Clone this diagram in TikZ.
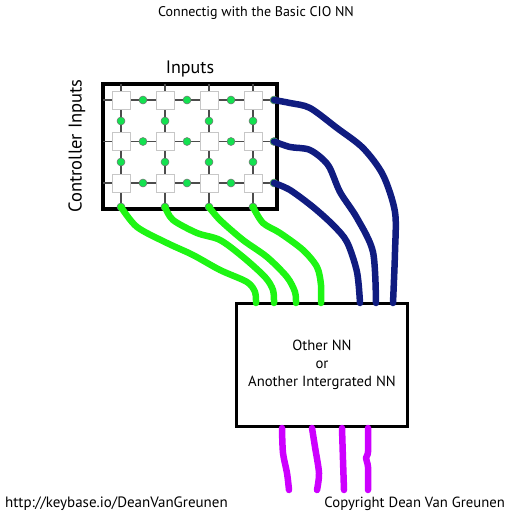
\documentclass[tikz,border=0pt]{standalone}
\usepackage{fontspec}
\setmainfont{PT Sans}
\usetikzlibrary{calc}

\definecolor{dotgreen}{RGB}{20,225,80}
\definecolor{limegreen}{RGB}{30,245,20}
\definecolor{navywire}{RGB}{16,28,128}
\definecolor{purplewire}{RGB}{205,0,255}

\begin{document}
\begin{tikzpicture}[x=1pt,y=-1pt,
	cell/.style={draw=black!22,fill=white,minimum size=18pt,inner sep=0pt,line width=0.8pt},
	dot/.style={circle,draw=black!55,fill=dotgreen,minimum size=8pt,inner sep=0pt,line width=0.5pt},
	gridline/.style={draw=black!70,line width=1.1pt},
	frame/.style={draw,line width=3.5pt,inner sep=0pt},
	wire/.style={line width=6.5pt,line cap=round,line join=round}]
	\useasboundingbox (0,0) rectangle (512,512);

	% title
	\node[font=\fontsize{14}{16}\selectfont] (title) at (256,13) {Connectig with the Basic CIO NN};

	% input grid
	\node[frame,minimum width=174pt,minimum height=125pt] (grid) at (190,146.5) {};
	\node[anchor=base,font=\fontsize{18}{20}\selectfont] (inputs) at (190,73) {Inputs};
	\node[rotate=90,font=\fontsize{18.5}{20}\selectfont] (ctrl) at (77,146) {Controller Inputs};
	\foreach \y in {100,141.5,183}
		\draw[gridline] (103,\y) -- (275,\y);
	\foreach \x in {121,165,209,253}
		\draw[gridline] (\x,84) -- (\x,208);
	\foreach \x [count=\c] in {121,165,209,253}
		\foreach \y [count=\r] in {100,141.5,183}
			\node[cell] (c\c\r) at (\x,\y) {};
	\foreach \y [count=\r] in {100,141.5,183}
		\foreach \x [count=\c] in {143,187,231,274}
			\node[dot] (h\c\r) at (\x,\y) {};
	\foreach \x [count=\c] in {121,165,209,253}
		\foreach \y [count=\r] in {121,162,207}
			\node[dot] (v\c\r) at (\x,\y) {};

	% other network
	\node[frame,minimum width=171pt,minimum height=123pt,align=center,
		font=\fontsize{14.7}{18}\selectfont] (other) at (322,365) {Other NN\\or\\Another Intergrated NN};
	\coordinate (g1) at (256,303);
	\coordinate (g2) at (274,303);
	\coordinate (g3) at (296,303);
	\coordinate (g4) at (321,303);
	\coordinate (b1) at (360,303);
	\coordinate (b2) at (376,303);
	\coordinate (b3) at (393,303);
	\coordinate (p1) at (282,428);
	\coordinate (p2) at (312,428);
	\coordinate (p3) at (342,428);
	\coordinate (p4) at (368,428);

	% green wires
	\draw[wire,limegreen] plot[smooth] coordinates {(v13) (137,227) (167,243) (193,255) (220,270) (247,282) (255,292) (g1)};
	\draw[wire,limegreen] plot[smooth] coordinates {(v23) (173,220) (197,233) (220,240) (243,257) (265,277) (273,290) (g2)};
	\draw[wire,limegreen] plot[smooth] coordinates {(v33) (220,220) (243,240) (267,257) (287,277) (295,292) (g3)};
	\draw[wire,limegreen] plot[smooth] coordinates {(v43) (263,223) (280,233) (303,250) (317,267) (321,285) (g4)};

	% blue wires
	\draw[wire,navywire] plot[smooth] coordinates {(h41) (290,103) (310,108) (337,128) (363,148) (383,175) (395,212) (395,252) (b3)};
	\draw[wire,navywire] plot[smooth] coordinates {(h42) (290,147) (310,150) (328,165) (340,192) (357,218) (373,252) (b2)};
	\draw[wire,navywire] plot[smooth] coordinates {(h43) (290,190) (313,207) (333,225) (347,242) (357,272) (b1)};

	% purple wires
	\draw[wire,purplewire] plot[smooth] coordinates {(p1) (283,453) (287,473) (289,490)};
	\draw[wire,purplewire] plot[smooth] coordinates {(p2) (315,447) (319,473) (317,490)};
	\draw[wire,purplewire] plot[smooth] coordinates {(p3) (343,460) (344,490)};
	\draw[wire,purplewire] plot[smooth] coordinates {(p4) (368,452) (366,458) (368,467) (368,490)};

	% footer
	\node[anchor=base west,inner sep=0pt,font=\fontsize{15}{16}\selectfont] (site) at (5,507) {http://keybase.io/DeanVanGreunen};
	\node[anchor=base east,inner sep=0pt,font=\fontsize{14.7}{16}\selectfont] (copy) at (505,507) {Copyright Dean Van Greunen};
\end{tikzpicture}
\end{document}
